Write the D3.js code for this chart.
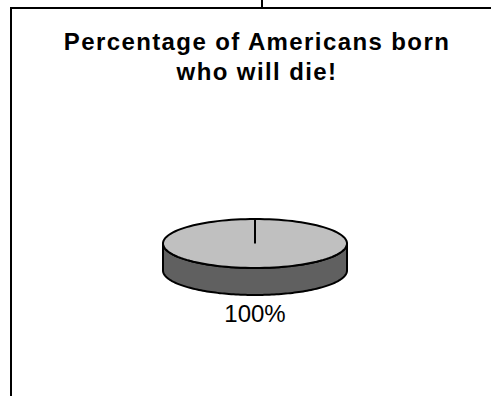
<!DOCTYPE html>
<html><head><meta charset="utf-8">
<script src="https://cdn.jsdelivr.net/npm/d3@7"></script>
<style>html,body{margin:0;padding:0;background:#fff;}svg{display:block;}</style>
</head><body>
<script>
const titleLines = ["Percentage of Americans born", "who will die!"];
const categories = ["Will die"];
const values = [100];
const labels = ["100%"];

const W = 491, H = 396;
const svg = d3.select("body").append("svg").attr("width", W).attr("height", H);

// frame and connector
svg.append("line").attr("x1", 262).attr("x2", 262).attr("y1", 0).attr("y2", 8)
  .attr("stroke", "#000").attr("stroke-width", 2);
svg.append("rect").attr("x", 11).attr("y", 8).attr("width", W + 20).attr("height", H + 20)
  .attr("fill", "none").attr("stroke", "#000").attr("stroke-width", 2);

// title
svg.append("text").attr("x", 257).attr("y", 50).attr("text-anchor", "middle")
  .style("font-family", "Arial, 'Liberation Sans', sans-serif").style("font-weight", "bold")
  .style("font-size", "24px").style("letter-spacing", "1.4px")
  .selectAll("tspan").data(titleLines).join("tspan")
  .attr("x", 257).attr("dy", (d, i) => i ? 30 : 0).text(d => d);

// 3D pie
const cx = 255, cy = 243.5, rx = 92, ry = 24.5, depth = 27;
const colorsTop = d3.scaleOrdinal().domain(categories).range(["#c0c0c0"]);
const colorsSide = d3.scaleOrdinal().domain(categories).range(["#606060"]);
const pie = d3.pie().sort(null).value(d => d.v);
const arcs = pie(categories.map((c, i) => ({c, v: values[i]})));
const px = a => cx + rx * Math.sin(a);
const py = (a, dz = 0) => cy - ry * Math.cos(a) + dz;

function sample(a0, a1, n = 120) {
  return d3.range(n + 1).map(k => a0 + (a1 - a0) * k / n);
}

const g = svg.append("g");
arcs.forEach(d => {
  const s0 = Math.max(d.startAngle, Math.PI / 2), s1 = Math.min(d.endAngle, 3 * Math.PI / 2);
  if (s1 > s0) {
    const top = sample(s0, s1).map(a => [px(a), py(a)]);
    const bot = sample(s0, s1).reverse().map(a => [px(a), py(a, depth)]);
    g.append("path").attr("d", d3.line()(top.concat(bot)) + "Z")
      .attr("fill", colorsSide(d.data.c)).attr("stroke", "#000").attr("stroke-width", 2)
      .attr("stroke-linejoin", "round");
  }
  const pts = sample(d.startAngle, d.endAngle).map(a => [px(a), py(a)]);
  const full = (d.endAngle - d.startAngle) >= 2 * Math.PI - 1e-6;
  g.append("path").attr("d", d3.line()(full ? pts : [[cx, cy]].concat(pts)) + "Z")
    .attr("fill", colorsTop(d.data.c)).attr("stroke", "#000").attr("stroke-width", 2);
  g.append("line").attr("x1", cx).attr("y1", cy).attr("x2", px(d.startAngle)).attr("y2", py(d.startAngle))
    .attr("stroke", "#000").attr("stroke-width", 2);
});

svg.append("text").attr("x", cx).attr("y", 322).attr("text-anchor", "middle")
  .style("font-family", "Arial, 'Liberation Sans', sans-serif").style("font-size", "24px")
  .text(labels[0]);
</script>
</body></html>
